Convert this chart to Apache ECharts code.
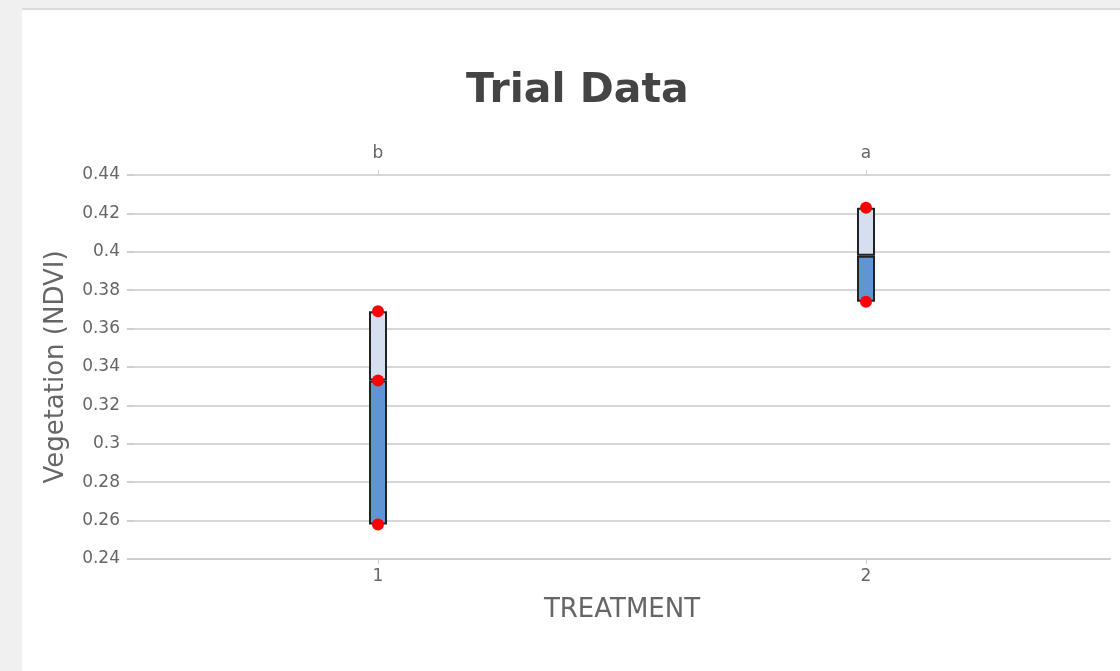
<!DOCTYPE html>
<html>
<head>
<meta charset="utf-8">
<script src="https://cdn.jsdelivr.net/npm/echarts@6/dist/echarts.min.js"></script>
<style>
html,body{margin:0;padding:0;width:1120px;height:671px;background:#f0f0f0;overflow:hidden;}
#panel{position:absolute;left:22px;top:8px;width:1098px;height:661px;background:#fff;border-top:2px solid #dcdcdc;}
#chart{position:absolute;left:0;top:0;width:1098px;height:661px;}
</style>
</head>
<body>
<div id="panel"><div id="chart"></div></div>
<script>
// ---- data ----
const categories = ['1', '2'];
const groupLetters = ['b', 'a'];
const lowValues = [0.258, 0.374];
const midValues = [0.333, 0.398];
const highValues = [0.369, 0.423];
const dotsCat1 = [0.369, 0.333, 0.258];
const dotsCat2 = [0.423, 0.374];
const yTicks = { min: 0.24, max: 0.44, step: 0.02 };

const FONT = 'DejaVu Sans';
const lowerSeg = midValues.map((m, i) => +(m - lowValues[i]).toFixed(4));
const upperSeg = highValues.map((h, i) => +(h - midValues[i]).toFixed(4));
const dotData = [];
dotsCat1.forEach(v => dotData.push([categories[0], v]));
dotsCat2.forEach(v => dotData.push([categories[1], v]));

const chart = echarts.init(document.getElementById('chart'), null, { renderer: 'canvas' });
chart.setOption({
  animation: false,
  backgroundColor: '#ffffff',
  title: {
    text: 'Trial Data',
    left: 439,
    top: 56,
    textStyle: { fontFamily: FONT, fontSize: 41, fontWeight: 'bold', color: '#444444' }
  },
  grid: { left: 112, right: 10, top: 165, bottom: 112, containLabel: false },
  xAxis: [
    {
      type: 'category',
      data: categories,
      position: 'bottom',
      name: 'TREATMENT',
      nameLocation: 'middle',
      nameGap: 38,
      nameTextStyle: { fontFamily: FONT, fontSize: 26, color: '#666666' },
      axisLine: { show: true, lineStyle: { color: '#cfcfcf', width: 2 } },
      axisTick: { show: true, alignWithLabel: true, length: 5, lineStyle: { color: '#cfcfcf' } },
      axisLabel: { fontFamily: FONT, fontSize: 17, color: '#666666', margin: 9 },
      splitLine: { show: false }
    },
    {
      type: 'category',
      data: groupLetters,
      position: 'top',
      axisLine: { show: false },
      axisTick: { show: true, alignWithLabel: true, length: 5, lineStyle: { color: '#cfcfcf' } },
      axisLabel: { fontFamily: FONT, fontSize: 17, color: '#666666', margin: 13 },
      splitLine: { show: false }
    }
  ],
  yAxis: {
    type: 'value',
    min: yTicks.min,
    max: yTicks.max,
    interval: yTicks.step,
    name: 'Vegetation (NDVI)',
    nameLocation: 'middle',
    nameGap: 65,
    nameRotate: 90,
    nameTextStyle: { fontFamily: FONT, fontSize: 26, color: '#666666' },
    axisLine: { show: false },
    axisTick: { show: true, length: 7, lineStyle: { color: '#cfcfcf', width: 2 } },
    axisLabel: {
      fontFamily: FONT, fontSize: 17, color: '#666666', margin: 14,
      formatter: v => String(+v.toFixed(2))
    },
    splitLine: { show: true, lineStyle: { color: '#d6d6d6', width: 2 } }
  },
  series: [
    {
      type: 'bar', stack: 'box', xAxisIndex: 0, barWidth: 18,
      data: lowValues,
      itemStyle: { color: 'transparent', borderWidth: 0 },
      silent: true
    },
    {
      type: 'bar', stack: 'box', xAxisIndex: 0, barWidth: 18,
      data: lowerSeg,
      itemStyle: { color: '#5f95d4', borderColor: '#222222', borderWidth: 2 }
    },
    {
      type: 'bar', stack: 'box', xAxisIndex: 0, barWidth: 18,
      data: upperSeg,
      itemStyle: { color: '#d6dfef', borderColor: '#222222', borderWidth: 2 }
    },
    {
      type: 'scatter', xAxisIndex: 0, z: 10,
      symbol: 'circle', symbolSize: 12,
      data: dotData,
      itemStyle: { color: '#ff0000', opacity: 1 }
    }
  ]
});
</script>
</body>
</html>
